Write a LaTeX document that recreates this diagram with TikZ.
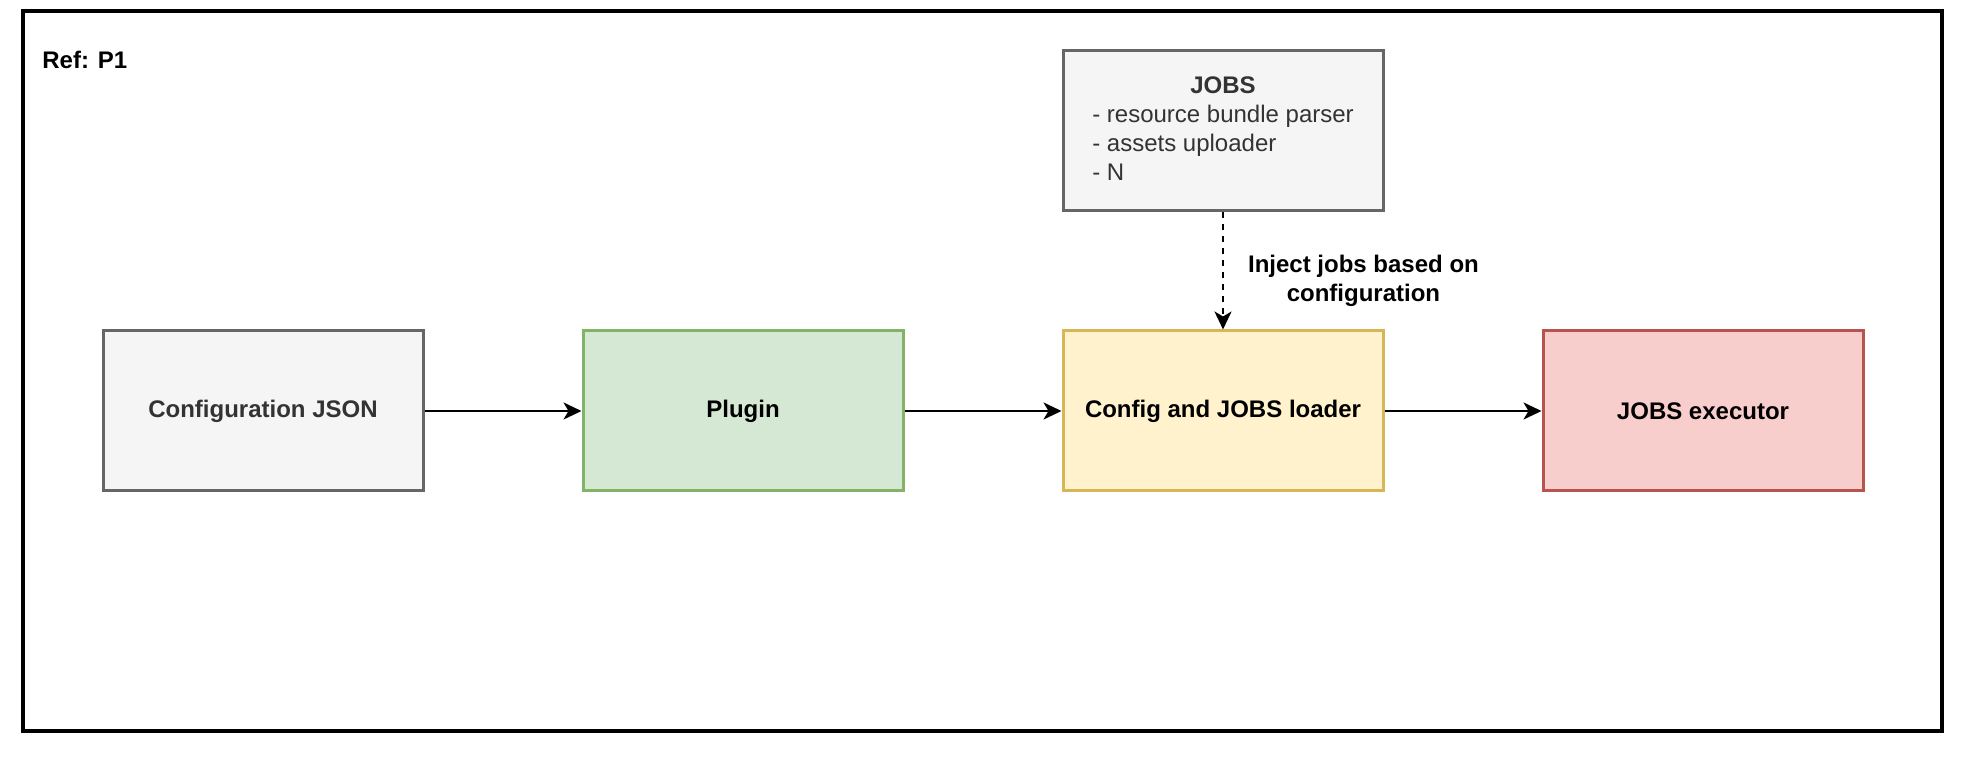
\documentclass[tikz,border=0pt]{standalone}
\usepackage{fontspec}
\setmainfont{Liberation Sans}
\usetikzlibrary{positioning,arrows.meta}
\definecolor{grayfill}{HTML}{F5F5F5}
\definecolor{graydraw}{HTML}{666666}
\definecolor{graytext}{HTML}{333333}
\definecolor{greenfill}{HTML}{D5E8D4}
\definecolor{greendraw}{HTML}{82B366}
\definecolor{yellowfill}{HTML}{FFF2CC}
\definecolor{yellowdraw}{HTML}{D6B656}
\definecolor{redfill}{HTML}{F8CECC}
\definecolor{reddraw}{HTML}{B85450}
\tikzset{
>={Stealth[length=9pt,width=8.5pt,inset=2.5pt]},
  boks/.style={
    rectangle,
    draw, line width=1.5pt,
    minimum width=160pt,
    minimum height=80pt,
    text centered,
    font=\bfseries},
  grayboks/.style={boks, fill=grayfill, draw=graydraw, text=graytext},
  greenboks/.style={boks, fill=greenfill, draw=greendraw},
  yellowboks/.style={boks, fill=yellowfill, draw=yellowdraw},
  redboks/.style={boks, fill=redfill, draw=reddraw},
  frame/.style={draw, line width=1.6pt},
  line/.style={draw, line width=1.1pt, ->},
  dashline/.style={line, dash pattern=on 3pt off 3pt},
}
\begin{document}
\fontsize{12}{14.5}\selectfont
\begin{tikzpicture}
  [x=0.5pt, y=-0.5pt,
  node distance=78.5pt]
  \useasboundingbox (0,0) rectangle (1974,758);
  \draw[frame] (23,11) rectangle (1942,731);
  \node[anchor=base west, inner sep=0pt, font=\bfseries] (RefP) at (42,69) {Ref: P1};
     \node[grayboks] (ConfigJSON) at (263,411) {Configuration JSON};
     \node[greenboks, right=of ConfigJSON] (Plugin) {Plugin};
     \node[yellowboks, right=of Plugin] (Loader) {Config and JOBS loader};
     \node[redboks, right=of Loader] (Executor) {JOBS executor};
     \node[grayboks, font=\mdseries, above=58.5pt of Loader] (Jobs)
       {\begin{tabular}{@{}l@{}}
        \multicolumn{1}{@{}c@{}}{\bfseries JOBS}\\
        - resource bundle parser\\
        - assets uploader\\
        - N
        \end{tabular}};
  % connectors along the main row
  \path[line] (ConfigJSON) -- (Plugin);
  \path[line] (Plugin) -- (Loader);
  \path[line] (Loader) -- (Executor);
  %% the jobs get injected from above
  \path[dashline] (Jobs) -- node[pos=0.58, right=8pt, align=center, font=\bfseries] (Inject)
    {Inject jobs based on\\configuration} (Loader);
\end{tikzpicture}
\end{document}
